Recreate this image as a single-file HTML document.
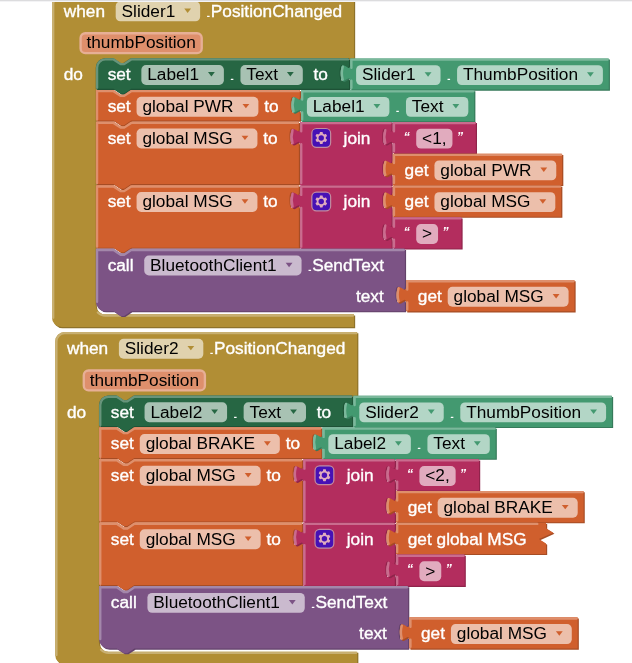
<!DOCTYPE html>
<html><head><meta charset="utf-8"><title>Blocks</title>
<style>
html,body{margin:0;padding:0;background:#fff;}
body{width:632px;height:663px;overflow:hidden;position:relative;}
svg{position:absolute;left:0;top:0;display:block;will-change:transform;opacity:0.9999;}
text{font-family:"Liberation Sans",Arial,sans-serif;font-size:14.67px;}
.w{fill:#fff;stroke:#fff;stroke-width:0.3px;}
.d{fill:#fff;}
.b{fill:#000;}
.q{fill:#fff;font-style:italic;font-weight:bold;font-size:10.8px;}
.fr{fill:#fff;fill-opacity:0.6;}
.pr{fill:rgb(222,143,108);stroke:rgb(231,175,150);stroke-width:2;}
.topline{position:absolute;left:0;top:0;width:632px;height:2px;background:linear-gradient(#dcdcde 0,#dcdcde 50%,#f3f3f5 50%,#f3f3f5 100%);}
</style></head><body>
<svg width="632" height="663" viewBox="0 0 632 663">
<g transform="scale(1.17650)">
<g transform="translate(44.2,-4.5)">
<path d="M 0,8 A 8,8 0 0,1 8,0 H 256.68 v 54 H 66.31 l -6,4 -3,0 -6,-4 h -6.2 a 8,8 0 0,0 -8,8 v 201.7 a 8,8 0 0,0 8,8 H 256.68 v 10.8 H 8 a 8,8 0 0,1 -8,-8 z" fill="#8e722a" transform="translate(1,1)"/>
<path d="M 0,8 A 8,8 0 0,1 8,0 H 256.68 v 54 H 66.31 l -6,4 -3,0 -6,-4 h -6.2 a 8,8 0 0,0 -8,8 v 201.7 a 8,8 0 0,0 8,8 H 256.68 v 10.8 H 8 a 8,8 0 0,1 -8,-8 z" fill="#b18e35"/>
<path d="M 1,274.5 V 8 A 7,7 0 0,1 8,1 H 255.68 M 39.01,270.1 a 9,9 0 0,0 6.4,2.6 H 255.68" fill="none" stroke="#c8b072" stroke-width="2" stroke-linecap="round"/>
<text class="w" x="10" y="18.7">when </text>
<rect class="fr" x="54.14" y="5.75" width="71.76" height="16.9" rx="4"/>
<text class="b" x="59.14" y="18.7">Slider1</text>
<path d="M112.4,11.8 h5.8 l-2.9,3.8 z" fill="#b18e35"/>
<text class="d" transform="translate(129.9,18.7) scale(1.5,0.6)">.</text>
<text class="w" x="134.97" y="18.7">PositionChanged</text>
<rect class="pr" x="24.3" y="32.75" width="102.95" height="16.9" rx="4"/>
<text class="b" x="29.3" y="45.7">thumbPosition</text>
<text class="w" x="10" y="72.7">do</text>
</g>
<g transform="translate(81.51,49.5)">
<path d="M 0,8 A 8,8 0 0,1 8,0 H 15 l 6,4 3,0 6,-4 H 215.17 v 5 c 0,10 -8,-8 -8,7.5 s 8,-2.5 8,7.5 v 6 H 30 l -6,4 -3,0 -6,-4 H 0 z" fill="#1e5236" transform="translate(1,1)"/>
<path d="M 0,8 A 8,8 0 0,1 8,0 H 15 l 6,4 3,0 6,-4 H 215.17 v 5 c 0,10 -8,-8 -8,7.5 s 8,-2.5 8,7.5 v 6 H 30 l -6,4 -3,0 -6,-4 H 0 z" fill="#266643"/>
<path d="M 1,25 V 8 A 7,7 0 0,1 8,1 H 15 l 6,4 3,0 6,-4 H 214.17" fill="none" stroke="#67947b" stroke-width="2" stroke-linecap="round"/>
<text class="w" x="10" y="18.7">set </text>
<rect class="fr" x="38.64" y="5.75" width="70.14" height="16.9" rx="4"/>
<text class="b" x="43.64" y="18.7">Label1</text>
<path d="M95.29,11.8 h5.8 l-2.9,3.8 z" fill="#266643"/>
<text class="d" transform="translate(112.79,18.7) scale(1.5,0.6)">.</text>
<rect class="fr" x="122.86" y="5.75" width="53" height="16.9" rx="4"/>
<text class="b" x="127.86" y="18.7">Text</text>
<path d="M162.36,11.8 h5.8 l-2.9,3.8 z" fill="#266643"/>
<text class="w" x="180.86" y="18.7"> to</text>
</g>
<g transform="translate(297.68,49.65)">
<path d="M 0,0 H 219.76 v 26.5 H 0 V 20 c 0,-10 -8,8 -8,-7.5 s 8,2.5 8,-7.5 z" fill="#367a5a" transform="translate(1,1)"/>
<path d="M 0,0 H 219.76 v 26.5 H 0 V 20 c 0,-10 -8,8 -8,-7.5 s 8,2.5 8,-7.5 z" fill="#439970"/>
<path d="M 1,25 V 19 m -7.36,-1 q -1.52,-5.5 0,-11 m 7.36,1 V 1 H 218.76" fill="none" stroke="#7bb89b" stroke-width="2" stroke-linecap="round"/>
<rect class="fr" x="5" y="5.75" width="71.76" height="16.9" rx="4"/>
<text class="b" x="10" y="18.7">Slider1</text>
<path d="M63.26,11.8 h5.8 l-2.9,3.8 z" fill="#439970"/>
<text class="d" transform="translate(80.76,18.7) scale(1.5,0.6)">.</text>
<rect class="fr" x="90.83" y="5.75" width="123.93" height="16.9" rx="4"/>
<text class="b" x="95.83" y="18.7">ThumbPosition</text>
<path d="M201.26,11.8 h5.8 l-2.9,3.8 z" fill="#439970"/>
</g>
<g transform="translate(81.51,76.5)">
<path d="M 0,0 H 15 l 6,4 3,0 6,-4 H 173.34 v 5 c 0,10 -8,-8 -8,7.5 s 8,-2.5 8,7.5 v 6 H 30 l -6,4 -3,0 -6,-4 H 0 z" fill="#a64c24" transform="translate(1,1)"/>
<path d="M 0,0 H 15 l 6,4 3,0 6,-4 H 173.34 v 5 c 0,10 -8,-8 -8,7.5 s 8,-2.5 8,7.5 v 6 H 30 l -6,4 -3,0 -6,-4 H 0 z" fill="#d05f2d"/>
<path d="M 1,25 V 1 H 15 l 6,4 3,0 6,-4 H 172.34" fill="none" stroke="#de8f6c" stroke-width="2" stroke-linecap="round"/>
<text class="w" x="10" y="18.7">set</text>
<rect class="fr" x="34.57" y="5.75" width="103.54" height="16.9" rx="4"/>
<text class="b" x="39.57" y="18.7">global PWR</text>
<path d="M124.61,11.8 h5.8 l-2.9,3.8 z" fill="#d05f2d"/>
<text class="w" x="143.11" y="18.7">to</text>
</g>
<g transform="translate(255.85,76.65)">
<path d="M 0,0 H 147.22 v 26.5 H 0 V 20 c 0,-10 -8,8 -8,-7.5 s 8,2.5 8,-7.5 z" fill="#367a5a" transform="translate(1,1)"/>
<path d="M 0,0 H 147.22 v 26.5 H 0 V 20 c 0,-10 -8,8 -8,-7.5 s 8,2.5 8,-7.5 z" fill="#439970"/>
<path d="M 1,25 V 19 m -7.36,-1 q -1.52,-5.5 0,-11 m 7.36,1 V 1 H 146.22" fill="none" stroke="#7bb89b" stroke-width="2" stroke-linecap="round"/>
<rect class="fr" x="5" y="5.75" width="70.14" height="16.9" rx="4"/>
<text class="b" x="10" y="18.7">Label1</text>
<path d="M61.64,11.8 h5.8 l-2.9,3.8 z" fill="#439970"/>
<text class="d" transform="translate(79.14,18.7) scale(1.5,0.6)">.</text>
<rect class="fr" x="89.22" y="5.75" width="53" height="16.9" rx="4"/>
<text class="b" x="94.22" y="18.7">Text</text>
<path d="M128.72,11.8 h5.8 l-2.9,3.8 z" fill="#439970"/>
</g>
<g transform="translate(81.51,103.5)">
<path d="M 0,0 H 15 l 6,4 3,0 6,-4 H 172.53 v 5 c 0,10 -8,-8 -8,7.5 s 8,-2.5 8,7.5 v 33 H 30 l -6,4 -3,0 -6,-4 H 0 z" fill="#a64c24" transform="translate(1,1)"/>
<path d="M 0,0 H 15 l 6,4 3,0 6,-4 H 172.53 v 5 c 0,10 -8,-8 -8,7.5 s 8,-2.5 8,7.5 v 33 H 30 l -6,4 -3,0 -6,-4 H 0 z" fill="#d05f2d"/>
<path d="M 1,52 V 1 H 15 l 6,4 3,0 6,-4 H 171.53" fill="none" stroke="#de8f6c" stroke-width="2" stroke-linecap="round"/>
<text class="w" x="10" y="18.7">set</text>
<rect class="fr" x="34.57" y="5.75" width="102.73" height="16.9" rx="4"/>
<text class="b" x="39.57" y="18.7">global MSG</text>
<path d="M123.8,11.8 h5.8 l-2.9,3.8 z" fill="#d05f2d"/>
<text class="w" x="142.3" y="18.7">to</text>
</g>
<g transform="translate(255.04,103.65)">
<path d="M 0,0 H 77.83 v 5 c 0,10 -8,-8 -8,7.5 s 8,-2.5 8,7.5 v 7 v 5 c 0,10 -8,-8 -8,7.5 s 8,-2.5 8,7.5 v 6.5 H 0 V 20 c 0,-10 -8,8 -8,-7.5 s 8,2.5 8,-7.5 z" fill="#8f244b" transform="translate(1,1)"/>
<path d="M 0,0 H 77.83 v 5 c 0,10 -8,-8 -8,7.5 s 8,-2.5 8,7.5 v 7 v 5 c 0,10 -8,-8 -8,7.5 s 8,-2.5 8,7.5 v 6.5 H 0 V 20 c 0,-10 -8,8 -8,-7.5 s 8,2.5 8,-7.5 z" fill="#b32d5e"/>
<path d="M 1,52 V 19 m -7.36,-1 q -1.52,-5.5 0,-11 m 7.36,1 V 1 H 76.83" fill="none" stroke="#ca6c8e" stroke-width="2" stroke-linecap="round"/>
<g transform="translate(10,5.6)" opacity="0.6"><rect x="0" y="0" width="16" height="16" rx="4" fill="#0000f0" stroke="#ccc" stroke-width="1"/><path fill="#fff" d="m4.203,7.296 0,1.368 -0.92,0.677 -0.11,0.41 0.9,1.559 0.41,0.11 1.043,-0.457 1.187,0.683 0.127,1.134 0.3,0.3 1.8,0 0.3,-0.299 0.127,-1.138 1.185,-0.682 1.046,0.458 0.409,-0.11 0.9,-1.559 -0.11,-0.41 -0.92,-0.677 0,-1.366 0.92,-0.677 0.11,-0.41 -0.9,-1.559 -0.409,-0.109 -1.046,0.458 -1.185,-0.682 -0.127,-1.138 -0.3,-0.299 -1.8,0 -0.3,0.3 -0.126,1.135 -1.187,0.682 -1.043,-0.457 -0.41,0.11 -0.899,1.559 0.108,0.409z"/><circle cx="8" cy="8" r="2.3" fill="#0000f0"/></g>
<text class="w" x="37" y="18.7">join</text>
</g>
<g transform="translate(333.88,103.65)">
<path d="M 0,0 H 70.57 v 26.5 H 0 V 20 c 0,-10 -8,8 -8,-7.5 s 8,2.5 8,-7.5 z" fill="#8f244b" transform="translate(1,1)"/>
<path d="M 0,0 H 70.57 v 26.5 H 0 V 20 c 0,-10 -8,8 -8,-7.5 s 8,2.5 8,-7.5 z" fill="#b32d5e"/>
<path d="M 1,25 V 19 m -7.36,-1 q -1.52,-5.5 0,-11 m 7.36,1 V 1 H 69.57" fill="none" stroke="#ca6c8e" stroke-width="2" stroke-linecap="round"/>
<text class="q" x="9.1" y="15.9">“</text>
<rect class="fr" x="19.89" y="5.75" width="30.8" height="16.9" rx="4"/>
<text class="b" x="24.89" y="18.7">&lt;1,</text>
<text class="q" x="54.28" y="15.9">”</text>
</g>
<g transform="translate(333.88,130.65)">
<path d="M 0,0 H 143.93 v 26.5 H 0 V 20 c 0,-10 -8,8 -8,-7.5 s 8,2.5 8,-7.5 z" fill="#a64c24" transform="translate(1,1)"/>
<path d="M 0,0 H 143.93 v 26.5 H 0 V 20 c 0,-10 -8,8 -8,-7.5 s 8,2.5 8,-7.5 z" fill="#d05f2d"/>
<path d="M 1,25 V 19 m -7.36,-1 q -1.52,-5.5 0,-11 m 7.36,1 V 1 H 142.93" fill="none" stroke="#de8f6c" stroke-width="2" stroke-linecap="round"/>
<text class="w" x="10" y="18.7">get</text>
<rect class="fr" x="35.39" y="5.75" width="103.54" height="16.9" rx="4"/>
<text class="b" x="40.39" y="18.7">global PWR</text>
<path d="M125.43,11.8 h5.8 l-2.9,3.8 z" fill="#d05f2d"/>
</g>
<g transform="translate(81.51,157.5)">
<path d="M 0,0 H 15 l 6,4 3,0 6,-4 H 172.53 v 5 c 0,10 -8,-8 -8,7.5 s 8,-2.5 8,7.5 v 33 H 30 l -6,4 -3,0 -6,-4 H 0 z" fill="#a64c24" transform="translate(1,1)"/>
<path d="M 0,0 H 15 l 6,4 3,0 6,-4 H 172.53 v 5 c 0,10 -8,-8 -8,7.5 s 8,-2.5 8,7.5 v 33 H 30 l -6,4 -3,0 -6,-4 H 0 z" fill="#d05f2d"/>
<path d="M 1,52 V 1 H 15 l 6,4 3,0 6,-4 H 171.53" fill="none" stroke="#de8f6c" stroke-width="2" stroke-linecap="round"/>
<text class="w" x="10" y="18.7">set</text>
<rect class="fr" x="34.57" y="5.75" width="102.73" height="16.9" rx="4"/>
<text class="b" x="39.57" y="18.7">global MSG</text>
<path d="M123.8,11.8 h5.8 l-2.9,3.8 z" fill="#d05f2d"/>
<text class="w" x="142.3" y="18.7">to</text>
</g>
<g transform="translate(255.04,157.65)">
<path d="M 0,0 H 77.83 v 5 c 0,10 -8,-8 -8,7.5 s 8,-2.5 8,7.5 v 7 v 5 c 0,10 -8,-8 -8,7.5 s 8,-2.5 8,7.5 v 6.5 H 0 V 20 c 0,-10 -8,8 -8,-7.5 s 8,2.5 8,-7.5 z" fill="#8f244b" transform="translate(1,1)"/>
<path d="M 0,0 H 77.83 v 5 c 0,10 -8,-8 -8,7.5 s 8,-2.5 8,7.5 v 7 v 5 c 0,10 -8,-8 -8,7.5 s 8,-2.5 8,7.5 v 6.5 H 0 V 20 c 0,-10 -8,8 -8,-7.5 s 8,2.5 8,-7.5 z" fill="#b32d5e"/>
<path d="M 1,52 V 19 m -7.36,-1 q -1.52,-5.5 0,-11 m 7.36,1 V 1 H 76.83" fill="none" stroke="#ca6c8e" stroke-width="2" stroke-linecap="round"/>
<g transform="translate(10,5.6)" opacity="0.6"><rect x="0" y="0" width="16" height="16" rx="4" fill="#0000f0" stroke="#ccc" stroke-width="1"/><path fill="#fff" d="m4.203,7.296 0,1.368 -0.92,0.677 -0.11,0.41 0.9,1.559 0.41,0.11 1.043,-0.457 1.187,0.683 0.127,1.134 0.3,0.3 1.8,0 0.3,-0.299 0.127,-1.138 1.185,-0.682 1.046,0.458 0.409,-0.11 0.9,-1.559 -0.11,-0.41 -0.92,-0.677 0,-1.366 0.92,-0.677 0.11,-0.41 -0.9,-1.559 -0.409,-0.109 -1.046,0.458 -1.185,-0.682 -0.127,-1.138 -0.3,-0.299 -1.8,0 -0.3,0.3 -0.126,1.135 -1.187,0.682 -1.043,-0.457 -0.41,0.11 -0.899,1.559 0.108,0.409z"/><circle cx="8" cy="8" r="2.3" fill="#0000f0"/></g>
<text class="w" x="37" y="18.7">join</text>
</g>
<g transform="translate(333.88,157.65)">
<path d="M 0,0 H 143.12 v 26.5 H 0 V 20 c 0,-10 -8,8 -8,-7.5 s 8,2.5 8,-7.5 z" fill="#a64c24" transform="translate(1,1)"/>
<path d="M 0,0 H 143.12 v 26.5 H 0 V 20 c 0,-10 -8,8 -8,-7.5 s 8,2.5 8,-7.5 z" fill="#d05f2d"/>
<path d="M 1,25 V 19 m -7.36,-1 q -1.52,-5.5 0,-11 m 7.36,1 V 1 H 142.12" fill="none" stroke="#de8f6c" stroke-width="2" stroke-linecap="round"/>
<text class="w" x="10" y="18.7">get</text>
<rect class="fr" x="35.39" y="5.75" width="102.73" height="16.9" rx="4"/>
<text class="b" x="40.39" y="18.7">global MSG</text>
<path d="M124.62,11.8 h5.8 l-2.9,3.8 z" fill="#d05f2d"/>
</g>
<g transform="translate(333.88,184.65)">
<path d="M 0,0 H 58.34 v 26.5 H 0 V 20 c 0,-10 -8,8 -8,-7.5 s 8,2.5 8,-7.5 z" fill="#8f244b" transform="translate(1,1)"/>
<path d="M 0,0 H 58.34 v 26.5 H 0 V 20 c 0,-10 -8,8 -8,-7.5 s 8,2.5 8,-7.5 z" fill="#b32d5e"/>
<path d="M 1,25 V 19 m -7.36,-1 q -1.52,-5.5 0,-11 m 7.36,1 V 1 H 57.34" fill="none" stroke="#ca6c8e" stroke-width="2" stroke-linecap="round"/>
<text class="q" x="9.1" y="15.9">“</text>
<rect class="fr" x="19.89" y="5.75" width="18.57" height="16.9" rx="4"/>
<text class="b" x="24.89" y="18.7">&gt;</text>
<text class="q" x="42.05" y="15.9">”</text>
</g>
<g transform="translate(81.51,211.5)">
<path d="M 0,0 H 15 l 6,4 3,0 6,-4 H 262.65 v 26.4 v 5 c 0,10 -8,-8 -8,7.5 s 8,-2.5 8,7.5 v 6.6 H 30 l -6,4 -3,0 -6,-4 H 8 a 8,8 0 0,1 -8,-8 z" fill="#63426a" transform="translate(1,1)"/>
<path d="M 0,0 H 15 l 6,4 3,0 6,-4 H 262.65 v 26.4 v 5 c 0,10 -8,-8 -8,7.5 s 8,-2.5 8,7.5 v 6.6 H 30 l -6,4 -3,0 -6,-4 H 8 a 8,8 0 0,1 -8,-8 z" fill="#7c5385"/>
<path d="M 1,45 V 1 H 15 l 6,4 3,0 6,-4 H 261.65" fill="none" stroke="#a387aa" stroke-width="2" stroke-linecap="round"/>
<text class="w" x="10" y="18.7">call </text>
<rect class="fr" x="41.08" y="5.75" width="133.73" height="16.9" rx="4"/>
<text class="b" x="46.08" y="18.7">BluetoothClient1</text>
<path d="M161.32,11.8 h5.8 l-2.9,3.8 z" fill="#7c5385"/>
<text class="d" transform="translate(178.82,18.7) scale(1.5,0.6)">.</text>
<text class="w" x="183.89" y="18.7">SendText</text>
<text class="w" x="221.01" y="45.1">text</text>
</g>
<g transform="translate(345.16,238.05)">
<path d="M 0,0 H 143.12 v 26.5 H 0 V 20 c 0,-10 -8,8 -8,-7.5 s 8,2.5 8,-7.5 z" fill="#a64c24" transform="translate(1,1)"/>
<path d="M 0,0 H 143.12 v 26.5 H 0 V 20 c 0,-10 -8,8 -8,-7.5 s 8,2.5 8,-7.5 z" fill="#d05f2d"/>
<path d="M 1,25 V 19 m -7.36,-1 q -1.52,-5.5 0,-11 m 7.36,1 V 1 H 142.12" fill="none" stroke="#de8f6c" stroke-width="2" stroke-linecap="round"/>
<text class="w" x="10" y="18.7">get</text>
<rect class="fr" x="35.39" y="5.75" width="102.73" height="16.9" rx="4"/>
<text class="b" x="40.39" y="18.7">global MSG</text>
<path d="M124.62,11.8 h5.8 l-2.9,3.8 z" fill="#d05f2d"/>
</g>
<g transform="translate(46.92,282.19)">
<path d="M 0,8 A 8,8 0 0,1 8,0 H 256.68 v 54 H 66.31 l -6,4 -3,0 -6,-4 h -6.2 a 8,8 0 0,0 -8,8 v 201.7 a 8,8 0 0,0 8,8 H 256.68 v 10.8 H 8 a 8,8 0 0,1 -8,-8 z" fill="#8e722a" transform="translate(1,1)"/>
<path d="M 0,8 A 8,8 0 0,1 8,0 H 256.68 v 54 H 66.31 l -6,4 -3,0 -6,-4 h -6.2 a 8,8 0 0,0 -8,8 v 201.7 a 8,8 0 0,0 8,8 H 256.68 v 10.8 H 8 a 8,8 0 0,1 -8,-8 z" fill="#b18e35"/>
<path d="M 1,274.5 V 8 A 7,7 0 0,1 8,1 H 255.68 M 39.01,270.1 a 9,9 0 0,0 6.4,2.6 H 255.68" fill="none" stroke="#c8b072" stroke-width="2" stroke-linecap="round"/>
<text class="w" x="10" y="18.7">when </text>
<rect class="fr" x="54.14" y="5.75" width="71.76" height="16.9" rx="4"/>
<text class="b" x="59.14" y="18.7">Slider2</text>
<path d="M112.4,11.8 h5.8 l-2.9,3.8 z" fill="#b18e35"/>
<text class="d" transform="translate(129.9,18.7) scale(1.5,0.6)">.</text>
<text class="w" x="134.97" y="18.7">PositionChanged</text>
<rect class="pr" x="24.3" y="32.75" width="102.95" height="16.9" rx="4"/>
<text class="b" x="29.3" y="45.7">thumbPosition</text>
<text class="w" x="10" y="72.7">do</text>
</g>
<g transform="translate(84.23,336.19)">
<path d="M 0,8 A 8,8 0 0,1 8,0 H 15 l 6,4 3,0 6,-4 H 215.17 v 5 c 0,10 -8,-8 -8,7.5 s 8,-2.5 8,7.5 v 6 H 30 l -6,4 -3,0 -6,-4 H 0 z" fill="#1e5236" transform="translate(1,1)"/>
<path d="M 0,8 A 8,8 0 0,1 8,0 H 15 l 6,4 3,0 6,-4 H 215.17 v 5 c 0,10 -8,-8 -8,7.5 s 8,-2.5 8,7.5 v 6 H 30 l -6,4 -3,0 -6,-4 H 0 z" fill="#266643"/>
<path d="M 1,25 V 8 A 7,7 0 0,1 8,1 H 15 l 6,4 3,0 6,-4 H 214.17" fill="none" stroke="#67947b" stroke-width="2" stroke-linecap="round"/>
<text class="w" x="10" y="18.7">set </text>
<rect class="fr" x="38.64" y="5.75" width="70.14" height="16.9" rx="4"/>
<text class="b" x="43.64" y="18.7">Label2</text>
<path d="M95.29,11.8 h5.8 l-2.9,3.8 z" fill="#266643"/>
<text class="d" transform="translate(112.79,18.7) scale(1.5,0.6)">.</text>
<rect class="fr" x="122.86" y="5.75" width="53" height="16.9" rx="4"/>
<text class="b" x="127.86" y="18.7">Text</text>
<path d="M162.36,11.8 h5.8 l-2.9,3.8 z" fill="#266643"/>
<text class="w" x="180.86" y="18.7"> to</text>
</g>
<g transform="translate(300.4,336.34)">
<path d="M 0,0 H 219.76 v 26.5 H 0 V 20 c 0,-10 -8,8 -8,-7.5 s 8,2.5 8,-7.5 z" fill="#367a5a" transform="translate(1,1)"/>
<path d="M 0,0 H 219.76 v 26.5 H 0 V 20 c 0,-10 -8,8 -8,-7.5 s 8,2.5 8,-7.5 z" fill="#439970"/>
<path d="M 1,25 V 19 m -7.36,-1 q -1.52,-5.5 0,-11 m 7.36,1 V 1 H 218.76" fill="none" stroke="#7bb89b" stroke-width="2" stroke-linecap="round"/>
<rect class="fr" x="5" y="5.75" width="71.76" height="16.9" rx="4"/>
<text class="b" x="10" y="18.7">Slider2</text>
<path d="M63.26,11.8 h5.8 l-2.9,3.8 z" fill="#439970"/>
<text class="d" transform="translate(80.76,18.7) scale(1.5,0.6)">.</text>
<rect class="fr" x="90.83" y="5.75" width="123.93" height="16.9" rx="4"/>
<text class="b" x="95.83" y="18.7">ThumbPosition</text>
<path d="M201.26,11.8 h5.8 l-2.9,3.8 z" fill="#439970"/>
</g>
<g transform="translate(84.23,363.19)">
<path d="M 0,0 H 15 l 6,4 3,0 6,-4 H 188.85 v 5 c 0,10 -8,-8 -8,7.5 s 8,-2.5 8,7.5 v 6 H 30 l -6,4 -3,0 -6,-4 H 0 z" fill="#a64c24" transform="translate(1,1)"/>
<path d="M 0,0 H 15 l 6,4 3,0 6,-4 H 188.85 v 5 c 0,10 -8,-8 -8,7.5 s 8,-2.5 8,7.5 v 6 H 30 l -6,4 -3,0 -6,-4 H 0 z" fill="#d05f2d"/>
<path d="M 1,25 V 1 H 15 l 6,4 3,0 6,-4 H 187.85" fill="none" stroke="#de8f6c" stroke-width="2" stroke-linecap="round"/>
<text class="w" x="10" y="18.7">set</text>
<rect class="fr" x="34.57" y="5.75" width="119.05" height="16.9" rx="4"/>
<text class="b" x="39.57" y="18.7">global BRAKE</text>
<path d="M140.11,11.8 h5.8 l-2.9,3.8 z" fill="#d05f2d"/>
<text class="w" x="158.61" y="18.7">to</text>
</g>
<g transform="translate(274.08,363.34)">
<path d="M 0,0 H 147.22 v 26.5 H 0 V 20 c 0,-10 -8,8 -8,-7.5 s 8,2.5 8,-7.5 z" fill="#367a5a" transform="translate(1,1)"/>
<path d="M 0,0 H 147.22 v 26.5 H 0 V 20 c 0,-10 -8,8 -8,-7.5 s 8,2.5 8,-7.5 z" fill="#439970"/>
<path d="M 1,25 V 19 m -7.36,-1 q -1.52,-5.5 0,-11 m 7.36,1 V 1 H 146.22" fill="none" stroke="#7bb89b" stroke-width="2" stroke-linecap="round"/>
<rect class="fr" x="5" y="5.75" width="70.14" height="16.9" rx="4"/>
<text class="b" x="10" y="18.7">Label2</text>
<path d="M61.64,11.8 h5.8 l-2.9,3.8 z" fill="#439970"/>
<text class="d" transform="translate(79.14,18.7) scale(1.5,0.6)">.</text>
<rect class="fr" x="89.22" y="5.75" width="53" height="16.9" rx="4"/>
<text class="b" x="94.22" y="18.7">Text</text>
<path d="M128.72,11.8 h5.8 l-2.9,3.8 z" fill="#439970"/>
</g>
<g transform="translate(84.23,390.19)">
<path d="M 0,0 H 15 l 6,4 3,0 6,-4 H 172.53 v 5 c 0,10 -8,-8 -8,7.5 s 8,-2.5 8,7.5 v 33 H 30 l -6,4 -3,0 -6,-4 H 0 z" fill="#a64c24" transform="translate(1,1)"/>
<path d="M 0,0 H 15 l 6,4 3,0 6,-4 H 172.53 v 5 c 0,10 -8,-8 -8,7.5 s 8,-2.5 8,7.5 v 33 H 30 l -6,4 -3,0 -6,-4 H 0 z" fill="#d05f2d"/>
<path d="M 1,52 V 1 H 15 l 6,4 3,0 6,-4 H 171.53" fill="none" stroke="#de8f6c" stroke-width="2" stroke-linecap="round"/>
<text class="w" x="10" y="18.7">set</text>
<rect class="fr" x="34.57" y="5.75" width="102.73" height="16.9" rx="4"/>
<text class="b" x="39.57" y="18.7">global MSG</text>
<path d="M123.8,11.8 h5.8 l-2.9,3.8 z" fill="#d05f2d"/>
<text class="w" x="142.3" y="18.7">to</text>
</g>
<g transform="translate(257.76,390.34)">
<path d="M 0,0 H 77.83 v 5 c 0,10 -8,-8 -8,7.5 s 8,-2.5 8,7.5 v 7 v 5 c 0,10 -8,-8 -8,7.5 s 8,-2.5 8,7.5 v 6.5 H 0 V 20 c 0,-10 -8,8 -8,-7.5 s 8,2.5 8,-7.5 z" fill="#8f244b" transform="translate(1,1)"/>
<path d="M 0,0 H 77.83 v 5 c 0,10 -8,-8 -8,7.5 s 8,-2.5 8,7.5 v 7 v 5 c 0,10 -8,-8 -8,7.5 s 8,-2.5 8,7.5 v 6.5 H 0 V 20 c 0,-10 -8,8 -8,-7.5 s 8,2.5 8,-7.5 z" fill="#b32d5e"/>
<path d="M 1,52 V 19 m -7.36,-1 q -1.52,-5.5 0,-11 m 7.36,1 V 1 H 76.83" fill="none" stroke="#ca6c8e" stroke-width="2" stroke-linecap="round"/>
<g transform="translate(10,5.6)" opacity="0.6"><rect x="0" y="0" width="16" height="16" rx="4" fill="#0000f0" stroke="#ccc" stroke-width="1"/><path fill="#fff" d="m4.203,7.296 0,1.368 -0.92,0.677 -0.11,0.41 0.9,1.559 0.41,0.11 1.043,-0.457 1.187,0.683 0.127,1.134 0.3,0.3 1.8,0 0.3,-0.299 0.127,-1.138 1.185,-0.682 1.046,0.458 0.409,-0.11 0.9,-1.559 -0.11,-0.41 -0.92,-0.677 0,-1.366 0.92,-0.677 0.11,-0.41 -0.9,-1.559 -0.409,-0.109 -1.046,0.458 -1.185,-0.682 -0.127,-1.138 -0.3,-0.299 -1.8,0 -0.3,0.3 -0.126,1.135 -1.187,0.682 -1.043,-0.457 -0.41,0.11 -0.899,1.559 0.108,0.409z"/><circle cx="8" cy="8" r="2.3" fill="#0000f0"/></g>
<text class="w" x="37" y="18.7">join</text>
</g>
<g transform="translate(336.6,390.34)">
<path d="M 0,0 H 70.57 v 26.5 H 0 V 20 c 0,-10 -8,8 -8,-7.5 s 8,2.5 8,-7.5 z" fill="#8f244b" transform="translate(1,1)"/>
<path d="M 0,0 H 70.57 v 26.5 H 0 V 20 c 0,-10 -8,8 -8,-7.5 s 8,2.5 8,-7.5 z" fill="#b32d5e"/>
<path d="M 1,25 V 19 m -7.36,-1 q -1.52,-5.5 0,-11 m 7.36,1 V 1 H 69.57" fill="none" stroke="#ca6c8e" stroke-width="2" stroke-linecap="round"/>
<text class="q" x="9.1" y="15.9">“</text>
<rect class="fr" x="19.89" y="5.75" width="30.8" height="16.9" rx="4"/>
<text class="b" x="24.89" y="18.7">&lt;2,</text>
<text class="q" x="54.28" y="15.9">”</text>
</g>
<g transform="translate(336.6,417.34)">
<path d="M 0,0 H 159.43 v 26.5 H 0 V 20 c 0,-10 -8,8 -8,-7.5 s 8,2.5 8,-7.5 z" fill="#a64c24" transform="translate(1,1)"/>
<path d="M 0,0 H 159.43 v 26.5 H 0 V 20 c 0,-10 -8,8 -8,-7.5 s 8,2.5 8,-7.5 z" fill="#d05f2d"/>
<path d="M 1,25 V 19 m -7.36,-1 q -1.52,-5.5 0,-11 m 7.36,1 V 1 H 158.43" fill="none" stroke="#de8f6c" stroke-width="2" stroke-linecap="round"/>
<text class="w" x="10" y="18.7">get</text>
<rect class="fr" x="35.39" y="5.75" width="119.05" height="16.9" rx="4"/>
<text class="b" x="40.39" y="18.7">global BRAKE</text>
<path d="M140.93,11.8 h5.8 l-2.9,3.8 z" fill="#d05f2d"/>
</g>
<g transform="translate(84.23,444.19)">
<path d="M 0,0 H 15 l 6,4 3,0 6,-4 H 172.53 v 5 c 0,10 -8,-8 -8,7.5 s 8,-2.5 8,7.5 v 33 H 30 l -6,4 -3,0 -6,-4 H 0 z" fill="#a64c24" transform="translate(1,1)"/>
<path d="M 0,0 H 15 l 6,4 3,0 6,-4 H 172.53 v 5 c 0,10 -8,-8 -8,7.5 s 8,-2.5 8,7.5 v 33 H 30 l -6,4 -3,0 -6,-4 H 0 z" fill="#d05f2d"/>
<path d="M 1,52 V 1 H 15 l 6,4 3,0 6,-4 H 171.53" fill="none" stroke="#de8f6c" stroke-width="2" stroke-linecap="round"/>
<text class="w" x="10" y="18.7">set</text>
<rect class="fr" x="34.57" y="5.75" width="102.73" height="16.9" rx="4"/>
<text class="b" x="39.57" y="18.7">global MSG</text>
<path d="M123.8,11.8 h5.8 l-2.9,3.8 z" fill="#d05f2d"/>
<text class="w" x="142.3" y="18.7">to</text>
</g>
<g transform="translate(257.76,444.34)">
<path d="M 0,0 H 77.83 v 5 c 0,10 -8,-8 -8,7.5 s 8,-2.5 8,7.5 v 7 v 5 c 0,10 -8,-8 -8,7.5 s 8,-2.5 8,7.5 v 6.5 H 0 V 20 c 0,-10 -8,8 -8,-7.5 s 8,2.5 8,-7.5 z" fill="#8f244b" transform="translate(1,1)"/>
<path d="M 0,0 H 77.83 v 5 c 0,10 -8,-8 -8,7.5 s 8,-2.5 8,7.5 v 7 v 5 c 0,10 -8,-8 -8,7.5 s 8,-2.5 8,7.5 v 6.5 H 0 V 20 c 0,-10 -8,8 -8,-7.5 s 8,2.5 8,-7.5 z" fill="#b32d5e"/>
<path d="M 1,52 V 19 m -7.36,-1 q -1.52,-5.5 0,-11 m 7.36,1 V 1 H 76.83" fill="none" stroke="#ca6c8e" stroke-width="2" stroke-linecap="round"/>
<g transform="translate(10,5.6)" opacity="0.6"><rect x="0" y="0" width="16" height="16" rx="4" fill="#0000f0" stroke="#ccc" stroke-width="1"/><path fill="#fff" d="m4.203,7.296 0,1.368 -0.92,0.677 -0.11,0.41 0.9,1.559 0.41,0.11 1.043,-0.457 1.187,0.683 0.127,1.134 0.3,0.3 1.8,0 0.3,-0.299 0.127,-1.138 1.185,-0.682 1.046,0.458 0.409,-0.11 0.9,-1.559 -0.11,-0.41 -0.92,-0.677 0,-1.366 0.92,-0.677 0.11,-0.41 -0.9,-1.559 -0.409,-0.109 -1.046,0.458 -1.185,-0.682 -0.127,-1.138 -0.3,-0.299 -1.8,0 -0.3,0.3 -0.126,1.135 -1.187,0.682 -1.043,-0.457 -0.41,0.11 -0.899,1.559 0.108,0.409z"/><circle cx="8" cy="8" r="2.3" fill="#0000f0"/></g>
<text class="w" x="37" y="18.7">join</text>
</g>
<g transform="translate(336.6,444.34)">
<path d="M 0,0 H 121.09 l 6.4,0 0,4.6 6.2,3.8 -12.2,5.4 6,3.8 v 8.9 H 0 V 20 c 0,-10 -8,8 -8,-7.5 s 8,2.5 8,-7.5 z" fill="#a64c24" transform="translate(1,1)"/>
<path d="M 0,0 H 121.09 l 6.4,0 0,4.6 6.2,3.8 -12.2,5.4 6,3.8 v 8.9 H 0 V 20 c 0,-10 -8,8 -8,-7.5 s 8,2.5 8,-7.5 z" fill="#d05f2d"/>
<path d="M 1,25 V 19 m -7.36,-1 q -1.52,-5.5 0,-11 m 7.36,1 V 1 H 120.09" fill="none" stroke="#de8f6c" stroke-width="2" stroke-linecap="round"/>
<text class="w" x="10" y="18.7">get global MSG</text>
</g>
<g transform="translate(336.6,471.34)">
<path d="M 0,0 H 58.34 v 26.5 H 0 V 20 c 0,-10 -8,8 -8,-7.5 s 8,2.5 8,-7.5 z" fill="#8f244b" transform="translate(1,1)"/>
<path d="M 0,0 H 58.34 v 26.5 H 0 V 20 c 0,-10 -8,8 -8,-7.5 s 8,2.5 8,-7.5 z" fill="#b32d5e"/>
<path d="M 1,25 V 19 m -7.36,-1 q -1.52,-5.5 0,-11 m 7.36,1 V 1 H 57.34" fill="none" stroke="#ca6c8e" stroke-width="2" stroke-linecap="round"/>
<text class="q" x="9.1" y="15.9">“</text>
<rect class="fr" x="19.89" y="5.75" width="18.57" height="16.9" rx="4"/>
<text class="b" x="24.89" y="18.7">&gt;</text>
<text class="q" x="42.05" y="15.9">”</text>
</g>
<g transform="translate(84.23,498.19)">
<path d="M 0,0 H 15 l 6,4 3,0 6,-4 H 262.65 v 26.4 v 5 c 0,10 -8,-8 -8,7.5 s 8,-2.5 8,7.5 v 6.6 H 30 l -6,4 -3,0 -6,-4 H 8 a 8,8 0 0,1 -8,-8 z" fill="#63426a" transform="translate(1,1)"/>
<path d="M 0,0 H 15 l 6,4 3,0 6,-4 H 262.65 v 26.4 v 5 c 0,10 -8,-8 -8,7.5 s 8,-2.5 8,7.5 v 6.6 H 30 l -6,4 -3,0 -6,-4 H 8 a 8,8 0 0,1 -8,-8 z" fill="#7c5385"/>
<path d="M 1,45 V 1 H 15 l 6,4 3,0 6,-4 H 261.65" fill="none" stroke="#a387aa" stroke-width="2" stroke-linecap="round"/>
<text class="w" x="10" y="18.7">call </text>
<rect class="fr" x="41.08" y="5.75" width="133.73" height="16.9" rx="4"/>
<text class="b" x="46.08" y="18.7">BluetoothClient1</text>
<path d="M161.32,11.8 h5.8 l-2.9,3.8 z" fill="#7c5385"/>
<text class="d" transform="translate(178.82,18.7) scale(1.5,0.6)">.</text>
<text class="w" x="183.89" y="18.7">SendText</text>
<text class="w" x="221.01" y="45.1">text</text>
</g>
<g transform="translate(347.88,524.74)">
<path d="M 0,0 H 143.12 v 26.5 H 0 V 20 c 0,-10 -8,8 -8,-7.5 s 8,2.5 8,-7.5 z" fill="#a64c24" transform="translate(1,1)"/>
<path d="M 0,0 H 143.12 v 26.5 H 0 V 20 c 0,-10 -8,8 -8,-7.5 s 8,2.5 8,-7.5 z" fill="#d05f2d"/>
<path d="M 1,25 V 19 m -7.36,-1 q -1.52,-5.5 0,-11 m 7.36,1 V 1 H 142.12" fill="none" stroke="#de8f6c" stroke-width="2" stroke-linecap="round"/>
<text class="w" x="10" y="18.7">get</text>
<rect class="fr" x="35.39" y="5.75" width="102.73" height="16.9" rx="4"/>
<text class="b" x="40.39" y="18.7">global MSG</text>
<path d="M124.62,11.8 h5.8 l-2.9,3.8 z" fill="#d05f2d"/>
</g>
</g>
</svg>
<div class="topline"></div>
</body></html>
